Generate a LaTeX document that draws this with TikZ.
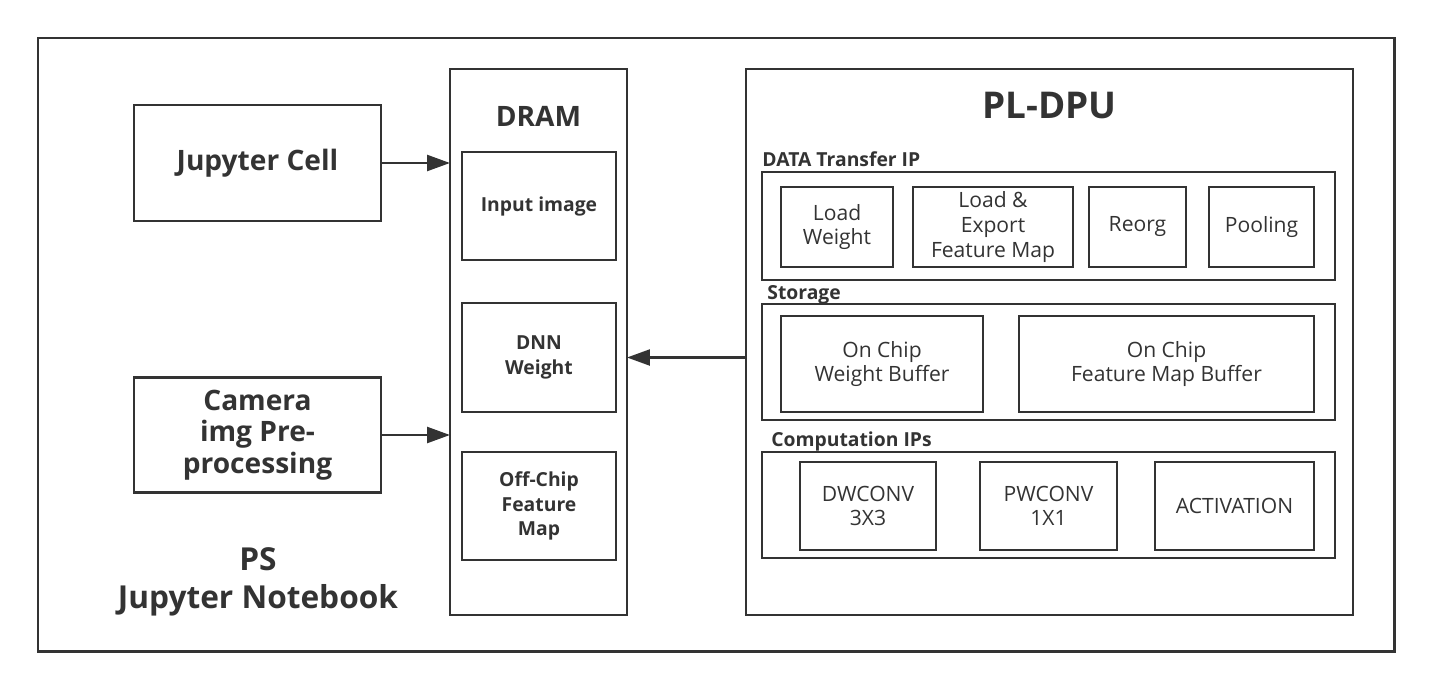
\documentclass[tikz,border=0pt]{standalone}
\usepackage{fontspec}
\setmainfont{Open Sans}
\usetikzlibrary{arrows.meta}
\definecolor{ink}{HTML}{333333}
\tikzset{
    blk/.style={draw=ink,line width=1.5pt,inner sep=0pt,outer sep=0pt,align=center,text=ink},
    hd/.style={text=ink,font=\bfseries,inner sep=0pt,anchor=west},
    conn/.style={draw=ink,line width=1.5pt,-{Triangle[length=13pt,width=9pt]}}
}
\begin{document}
\begin{tikzpicture}[x=0.02cm,y=-0.02cm]
            \useasboundingbox (0,0) rectangle (1432,686);
            % outer frame
            \draw[ink,line width=1.7pt] (38,38) rectangle (1394,651);

            % PS side
            \node[blk,minimum width=4.94cm,minimum height=2.32cm,font=\fontsize{16}{19}\selectfont\bfseries] (jcell) at (257.5,163) {Jupyter Cell};
            \node[blk,minimum width=4.94cm,minimum height=2.3cm,font=\fontsize{16}{18}\selectfont\bfseries] (cam) at (257.5,435) {Camera\\img Pre-\\processing};
            \node[text=ink,align=center,font=\fontsize{18}{21.5}\selectfont\bfseries] (ps) at (258,582) {PS\\Jupyter Notebook};

            % DRAM
            \node[blk,minimum width=3.54cm,minimum height=10.92cm] (dram) at (538.5,342) {};
            \node[text=ink,font=\fontsize{16}{19}\selectfont\bfseries] (dramlbl) at (538.5,116) {DRAM};
            \node[blk,minimum width=3.08cm,minimum height=2.16cm,font=\fontsize{11}{14}\selectfont\bfseries] (img) at (539,206) {Input image};
            \node[blk,minimum width=3.08cm,minimum height=2.18cm,font=\fontsize{11}{14}\selectfont\bfseries] (dnn) at (539,357.5) {DNN\\Weight};
            \node[blk,minimum width=3.08cm,minimum height=2.16cm,font=\fontsize{11}{14}\selectfont\bfseries] (offchip) at (539,506) {Off-Chip\\Feature\\Map};

            % PL-DPU
            \node[blk,minimum width=12.14cm,minimum height=10.92cm] (pldpu) at (1049.5,342) {};
            \node[text=ink,font=\fontsize{21}{25}\selectfont\bfseries] (pllbl) at (1049.5,106) {PL-DPU};

            % DATA Transfer IP
            \node[hd,font=\fontsize{11}{13}\selectfont\bfseries] (xferlbl) at (762,159) {DATA Transfer IP};
            \node[blk,minimum width=11.46cm,minimum height=2.16cm] (xfer) at (1048.5,226) {};
            \node[blk,minimum width=2.24cm,minimum height=1.6cm,font=\fontsize{12}{14}\selectfont] (lw) at (837,227) {Load\\Weight};
            \node[blk,minimum width=3.2cm,minimum height=1.6cm,font=\fontsize{12}{14}\selectfont] (lefm) at (993,227) {Load \&\\Export\\Feature Map};
            \node[blk,minimum width=1.94cm,minimum height=1.6cm,font=\fontsize{12}{14}\selectfont] (reorg) at (1137.5,227) {Reorg};
            \node[blk,minimum width=2.1cm,minimum height=1.6cm,font=\fontsize{12}{14}\selectfont] (pool) at (1261.5,227) {Pooling};

            % Storage
            \node[hd,font=\fontsize{11}{13}\selectfont\bfseries] (storlbl) at (767,295) {Storage};
            \node[blk,minimum width=11.46cm,minimum height=2.32cm] (stor) at (1048.5,362) {};
            \node[blk,minimum width=4.04cm,minimum height=1.92cm,font=\fontsize{12}{14}\selectfont] (wbuf) at (882,364) {On Chip\\Weight Buffer};
            \node[blk,minimum width=5.9cm,minimum height=1.92cm,font=\fontsize{12}{14}\selectfont] (fbuf) at (1166.5,364) {On Chip\\Feature Map Buffer};

            % Computation IPs
            \node[hd,font=\fontsize{11}{13}\selectfont\bfseries] (complbl) at (771,441) {Computation IPs};
            \node[blk,minimum width=11.46cm,minimum height=2.12cm] (comp) at (1048.5,505) {};
            \node[blk,minimum width=2.72cm,minimum height=1.76cm,font=\fontsize{12}{14}\selectfont] (dw) at (868,506) {DWCONV\\3X3};
            \node[blk,minimum width=2.74cm,minimum height=1.76cm,font=\fontsize{12}{14}\selectfont] (pw) at (1048.5,506) {PWCONV\\1X1};
            \node[blk,minimum width=3.18cm,minimum height=1.76cm,font=\fontsize{12}{14}\selectfont] (act) at (1234.5,506) {ACTIVATION};

            % arrows
            \draw[conn] (jcell.east) -- (jcell.east -| dram.west);
            \draw[conn] (cam.east) -- (cam.east -| dram.west);
            \draw[conn] (pldpu.west |- dnn.east) -- (dram.east |- dnn.east);
\end{tikzpicture}
\end{document}
